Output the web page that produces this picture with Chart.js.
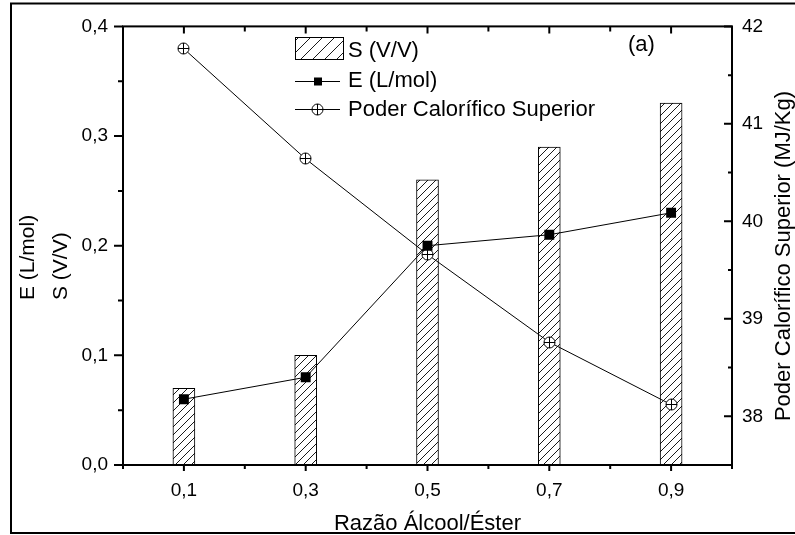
<!DOCTYPE html>
<html>
<head>
<meta charset="utf-8">
<script src="https://cdn.jsdelivr.net/npm/chart.js@4.4.1/dist/chart.umd.min.js"></script>
<style>
  html, body { margin: 0; padding: 0; background: #fff; }
  canvas { display: block; }
</style>
</head>
<body>
<canvas id="razaoChart" width="795" height="535"></canvas>
<script>
// valores
const ratios = [0.1, 0.3, 0.5, 0.7, 0.9];
const sValues = [0.07, 0.10, 0.26, 0.29, 0.33];
const eValues = [0.06, 0.08, 0.20, 0.21, 0.23];
const pcsValues = [41.77, 40.64, 39.66, 38.76, 38.12];

const xTicks = [0.1, 0.3, 0.5, 0.7, 0.9];
const xMinorTicks = [0, 0.2, 0.4, 0.6, 0.8, 1.0];
const yTicks = [0, 0.1, 0.2, 0.3, 0.4];
const yMinorTicks = [0.05, 0.15, 0.25, 0.35];
const y2Ticks = [38, 39, 40, 41, 42];
const y2MinorTicks = [38.5, 39.5, 40.5, 41.5];

const seriesLabels = ['S (V/V)', 'E (L/mol)', 'Poder Calorífico Superior'];
const xTitle = 'Razão Álcool/Éster';
const yTitle = ['E (L/mol)', 'S (V/V)'];
const y2Title = 'Poder Calorífico Superior (MJ/Kg)';
const panelLabel = '(a)';

const FONT = '"Liberation Sans", Arial, sans-serif';

function comma(v, d) {
    return v.toFixed(d).replace('.', ',');
}

function makeHatch(step) {
    const c = document.createElement('canvas');
    c.width = step;
    c.height = step;
    const g = c.getContext('2d');
    g.fillStyle = '#fff';
    g.fillRect(0, 0, step, step);
    g.strokeStyle = '#000';
    g.lineWidth = 0.9;
    g.beginPath();
    g.moveTo(-1, step + 1); g.lineTo(step + 1, -1);
    g.moveTo(-2, 2); g.lineTo(2, -2);
    g.moveTo(step - 2, step + 2); g.lineTo(step + 2, step - 2);
    g.stroke();
    return g.createPattern(c, 'repeat');
}

function makeCirclePlus() {
    const c = document.createElement('canvas');
    c.width = 13;
    c.height = 13;
    const g = c.getContext('2d');
    g.fillStyle = '#fff';
    g.strokeStyle = '#000';
    g.lineWidth = 1;
    g.beginPath();
    g.arc(6.5, 6.5, 5.5, 0, Math.PI * 2);
    g.fill();
    g.stroke();
    g.beginPath();
    g.moveTo(1, 6.5); g.lineTo(12, 6.5);
    g.moveTo(6.5, 1); g.lineTo(6.5, 12);
    g.stroke();
    return c;
}

const barHatch = makeHatch(8);
const legendHatch = makeHatch(12);
const circlePlus = makeCirclePlus();

// moldura, ticks, títulos e legenda no estilo Origin
const frameAndText = {
    id: 'frameAndText',
    beforeDatasetsDraw(chart) {
        chart.ctx.imageSmoothingEnabled = false;
    },
    afterDatasetsDraw(chart) {
        const ctx = chart.ctx;
        const a = chart.chartArea;
        const sx = chart.scales.x, sy = chart.scales.y, sy2 = chart.scales.y2;

        ctx.save();
        ctx.strokeStyle = '#000';
        ctx.lineWidth = 2;
        ctx.strokeRect(a.left, a.top, a.right - a.left, a.bottom - a.top);

        ctx.beginPath();
        const seg = (x1, y1, x2, y2) => { ctx.moveTo(x1, y1); ctx.lineTo(x2, y2); };
        xTicks.forEach(v => {
            const p = sx.getPixelForValue(v);
            seg(p, a.bottom, p, a.bottom + 6);
            seg(p, a.top, p, a.top + 7);
        });
        xMinorTicks.forEach(v => {
            const p = sx.getPixelForValue(v);
            seg(p, a.bottom, p, a.bottom + 4);
            seg(p, a.top, p, a.top + 5);
        });
        yTicks.forEach(v => {
            const p = sy.getPixelForValue(v);
            seg(a.left - 9, p, a.left, p);
        });
        yMinorTicks.forEach(v => {
            const p = sy.getPixelForValue(v);
            seg(a.left - 5, p, a.left, p);
        });
        y2Ticks.forEach(v => {
            const p = sy2.getPixelForValue(v);
            seg(a.right - 8, p, a.right, p);
        });
        y2MinorTicks.forEach(v => {
            const p = sy2.getPixelForValue(v);
            seg(a.right - 4, p, a.right, p);
        });
        ctx.stroke();

        // moldura externa da figura
        ctx.beginPath();
        seg(795, 3.5, 11, 3.5);
        ctx.lineTo(11, 533);
        ctx.lineTo(795, 533);
        ctx.stroke();

        ctx.fillStyle = '#000';
        ctx.font = '22px ' + FONT;
        ctx.textBaseline = 'alphabetic';
        ctx.textAlign = 'center';
        ctx.fillText(xTitle, (a.left + a.right) / 2, 530);

        ctx.save();
        ctx.translate(790, 256);
        ctx.rotate(-Math.PI / 2);
        ctx.fillText(y2Title, 0, 0);
        ctx.restore();

        ctx.font = '21px ' + FONT;
        ctx.textAlign = 'left';
        [34, 67].forEach((bx, i) => {
            ctx.save();
            ctx.translate(bx, 300);
            ctx.rotate(-Math.PI / 2);
            ctx.fillText(yTitle[i], 0, 0);
            ctx.restore();
        });

        ctx.font = '22px ' + FONT;
        ctx.fillText(panelLabel, 628, 51);

        // legenda
        ctx.lineWidth = 1;
        ctx.fillStyle = legendHatch;
        ctx.fillRect(295.5, 37.5, 48, 22);
        ctx.strokeRect(295.5, 37.5, 48, 22);

        ctx.beginPath();
        seg(295, 81.5, 340, 81.5);
        seg(295, 109.5, 340, 109.5);
        ctx.stroke();
        ctx.fillStyle = '#000';
        ctx.fillRect(314, 77.5, 8, 8);
        ctx.drawImage(circlePlus, 311, 103);

        ctx.font = '22px ' + FONT;
        ctx.fillText(seriesLabels[0], 348, 57);
        ctx.fillText(seriesLabels[1], 348, 87);
        ctx.fillText(seriesLabels[2], 348, 116);
        ctx.restore();
    }
};

Chart.defaults.color = '#000';
Chart.defaults.font.family = FONT;

const tickFont = { size: 19, family: FONT };

const ctx = document.getElementById('razaoChart');
new Chart(ctx, {
    type: 'bar',
    data: {
        datasets: [{
            label: seriesLabels[1],
            type: 'line',
            data: ratios.map((r, i) => ({ x: r, y: eValues[i] })),
            yAxisID: 'y',
            borderColor: '#000',
            borderWidth: 1,
            pointStyle: 'rect',
            pointRadius: 7,
            pointBackgroundColor: '#000',
            pointBorderColor: '#000',
            pointBorderWidth: 0,
            tension: 0,
            order: 1
        },
        {
            label: seriesLabels[2],
            type: 'line',
            data: ratios.map((r, i) => ({ x: r, y: pcsValues[i] })),
            yAxisID: 'y2',
            borderColor: '#000',
            borderWidth: 1,
            pointStyle: circlePlus,
            tension: 0,
            order: 2
        },
        {
            label: seriesLabels[0],
            data: ratios.map((r, i) => ({ x: r, y: sValues[i] })),
            yAxisID: 'y',
            backgroundColor: barHatch,
            borderColor: '#000',
            borderWidth: 1,
            borderSkipped: false,
            barThickness: 22,
            order: 3
        }]
    },
    options: {
        responsive: false,
        animation: false,
        devicePixelRatio: 1,
        layout: {
            padding: { top: 18, left: 0, right: 0, bottom: 0 }
        },
        scales: {
            x: {
                type: 'linear',
                offset: false,
                min: 0,
                max: 1,
                grid: { display: false, drawTicks: false, offset: false },
                border: { display: false },
                afterBuildTicks: scale => { scale.ticks = xTicks.map(v => ({ value: v })); },
                afterFit: scale => { scale.height = 70; },
                ticks: {
                    padding: 14,
                    font: tickFont,
                    callback: v => comma(v, 1)
                }
            },
            y: {
                position: 'left',
                min: 0,
                max: 0.4,
                grid: { display: false, drawTicks: false },
                border: { display: false },
                afterBuildTicks: scale => { scale.ticks = yTicks.map(v => ({ value: v })); },
                afterFit: scale => { scale.width = 123; },
                ticks: {
                    padding: 15,
                    font: tickFont,
                    callback: v => comma(v, 1)
                }
            },
            y2: {
                position: 'right',
                min: 37.5,
                max: 42,
                grid: { display: false, drawTicks: false },
                border: { display: false },
                afterBuildTicks: scale => { scale.ticks = y2Ticks.map(v => ({ value: v })); },
                afterFit: scale => { scale.width = 63; },
                ticks: {
                    padding: 10,
                    font: tickFont,
                    callback: v => String(v)
                }
            }
        },
        plugins: {
            legend: { display: false },
            tooltip: { enabled: false }
        }
    },
    plugins: [frameAndText]
});
</script>
</body>
</html>
